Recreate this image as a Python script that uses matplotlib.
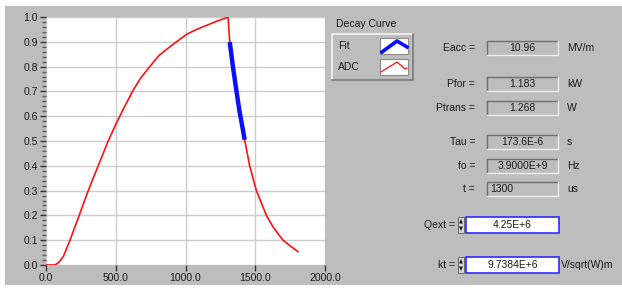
import matplotlib
matplotlib.use("Agg")
import matplotlib.pyplot as plt
from matplotlib.patches import Rectangle, Polygon

# ---- data ----
adc_t = [0, 64, 90, 124, 172, 205, 238, 270, 303, 338, 374, 410, 446, 500,
         560, 625, 680, 744, 810, 888, 935, 1007, 1080, 1150, 1220, 1293, 1305,
         1317, 1340, 1363, 1387, 1410, 1424, 1460, 1508, 1580, 1627, 1699, 1750, 1806]
adc_v = [0.0, 0.0, 0.01, 0.034, 0.10, 0.15, 0.20, 0.25, 0.30, 0.35, 0.40, 0.45,
         0.50, 0.567, 0.635, 0.705, 0.755, 0.80, 0.845, 0.88, 0.90, 0.93, 0.95,
         0.966, 0.982, 0.997, 1.0, 0.899, 0.80, 0.71, 0.62, 0.55, 0.505, 0.40, 0.30,
         0.20, 0.154, 0.10, 0.077, 0.054]
fit_t = [1317, 1340, 1363, 1387, 1410, 1424]
fit_v = [0.899, 0.80, 0.71, 0.62, 0.55, 0.505]

x_ticks = [0, 500, 1000, 1500, 2000]
y_ticks = [0.0, 0.1, 0.2, 0.3, 0.4, 0.5, 0.6, 0.7, 0.8, 0.9, 1.0]

legend_title = "Decay Curve"
legend_items = ["Fit", "ADC"]

field_labels = ["Eacc =", "Pfor =", "Ptrans =", "Tau =", "fo =", "t ="]
field_values = ["10.96", "1.183", "1.268", "173.6E-6", "3.9000E+9", "1300"]
field_units = ["MV/m", "kW", "W", "s", "Hz", "us"]
field_y = [48, 84, 108, 142, 166, 189]

input_labels = ["Qext =", "kt ="]
input_values = ["4.25E+6", "9.7384E+6"]
input_units = ["", "V/sqrt(W)m"]
input_y = [225, 265]

# ---- figure ----
W, H = 622, 290
fig = plt.figure(figsize=(W / 100, H / 100), dpi=100, facecolor="white")
plt.rcParams['font.family'] = ['Liberation Sans', 'DejaVu Sans']
FS = 7.5
GRAY = "#bdbdbd"
TXT = "#1a1a1a"

bg = fig.add_axes([0, 0, 1, 1], zorder=0)
bg.set_xlim(0, W)
bg.set_ylim(H, 0)
bg.axis("off")
bg.add_patch(Rectangle((5, 6), W - 5, 279, facecolor=GRAY, edgecolor="none"))

# main plot
L, R, T, B = 46, 325, 17, 265
ax = fig.add_axes([L / W, (H - B) / H, (R - L) / W, (B - T) / H], zorder=1)
ax.set_facecolor("white")
ax.plot(adc_t, adc_v, color="#ff1010", lw=1.2, zorder=3)
ax.plot(fit_t, fit_v, color="#0a10ff", lw=3.2, solid_capstyle="butt", zorder=4)
ax.set_xlim(0, 2000)
ax.set_ylim(0, 1.0)
ax.set_xticks(x_ticks)
ax.set_xticklabels([f"{v:.1f}" for v in x_ticks])
ax.set_yticks(y_ticks)
ax.set_yticklabels([f"{v:.1f}" for v in y_ticks])
ax.set_yticks([i * 0.02 for i in range(51)], minor=True)
ax.grid(True, color="#cccccc", lw=1.0, zorder=0)
ax.set_axisbelow(True)
for s in ax.spines.values():
    s.set_visible(False)
ax.tick_params(axis="both", which="major", labelsize=FS, colors="#333333",
               labelcolor=TXT, length=4, width=1, pad=2)
ax.tick_params(axis="y", which="minor", length=3, width=1, colors="#555555")
ax.tick_params(axis="x", which="minor", length=0)

# legend widget
bg.text(336, 24, legend_title, fontsize=FS, color=TXT, va="center", ha="left")
bx0, by0, bx1, by1 = 332, 34, 413, 80
bg.add_patch(Rectangle((bx0, by0), bx1 - bx0, by1 - by0, facecolor=GRAY,
                       edgecolor="none"))
bg.plot([bx0, bx0, bx1], [by1, by0, by0], color="#f4f4f4", lw=1.2)
bg.plot([bx0, bx1, bx1], [by1, by1, by0], color="#7a7a7a", lw=1.2)
sw_y = [46, 67]
for i, name in enumerate(legend_items):
    bg.text(338, sw_y[i], name, fontsize=FS, color=TXT, va="center", ha="left")
    bg.add_patch(Rectangle((380, sw_y[i] - 8), 28, 16, facecolor="white",
                           edgecolor="#8a8a8a", lw=0.8))
bg.plot([382, 397, 407], [52, 41, 47], color="#0a10ff", lw=2.6)
bg.plot([381, 397, 405, 407], [72, 62, 69, 68], color="#ff1010", lw=0.9)

# readout fields
for lab, val, unit, y in zip(field_labels, field_values, field_units, field_y):
    bg.text(475, y, lab, fontsize=FS, color=TXT, va="center", ha="right")
    bg.add_patch(Rectangle((487, y - 7), 71, 14, facecolor=GRAY, edgecolor="none"))
    bg.plot([487, 487, 558], [y + 7, y - 7, y - 7], color="#6e6e6e", lw=1.0)
    bg.plot([487, 558, 558], [y + 7, y + 7, y - 7], color="#eeeeee", lw=1.0)
    if val == "1300":
        bg.text(490, y, val, fontsize=FS, color=TXT, va="center", ha="left")
    else:
        bg.text(522.5, y, val, fontsize=FS, color=TXT, va="center", ha="center")
    bg.text(567, y, unit, fontsize=FS, color=TXT, va="center", ha="left")

# input fields with spinners
for lab, val, unit, y in zip(input_labels, input_values, input_units, input_y):
    bg.text(455, y, lab, fontsize=FS, color=TXT, va="center", ha="right")
    bg.add_patch(Rectangle((458, y - 8), 6, 16, facecolor="#d8d8d8",
                           edgecolor="#555555", lw=0.6))
    bg.add_patch(Polygon([[459, y - 1.5], [463, y - 1.5], [461, y - 6]],
                         closed=True, facecolor="#222222", edgecolor="none"))
    bg.add_patch(Polygon([[459, y + 1.5], [463, y + 1.5], [461, y + 6]],
                         closed=True, facecolor="#222222", edgecolor="none"))
    bg.add_patch(Rectangle((466, y - 8), 93, 16, facecolor="white",
                           edgecolor="#2a2aff", lw=1.2))
    bg.text(512.5, y, val, fontsize=FS, color=TXT, va="center", ha="center")
    if unit:
        bg.text(561, y, unit, fontsize=FS, color=TXT, va="center", ha="left")

fig.savefig("out.png", dpi=100, facecolor="white")
